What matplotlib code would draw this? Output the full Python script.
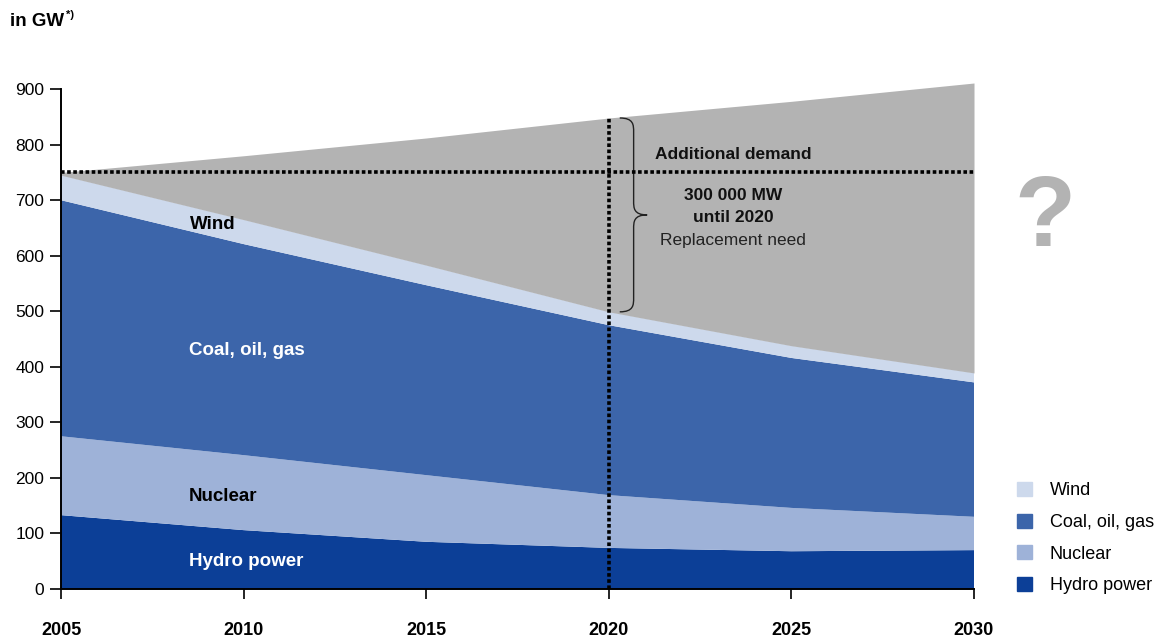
"""
installed capacity outlook 2005-2030, stacked by source, with the
gap between existing plants and expected demand shaded grey

    python plot.py  -> out.png
"""

import matplotlib
matplotlib.use("Agg")
import matplotlib.pyplot as plt
from matplotlib.patches import Patch, PathPatch
from matplotlib.path import Path

plt.rcParams["font.family"] = ["Liberation Sans", "DejaVu Sans"]

years = [2005, 2010, 2015, 2020, 2025, 2030]

# GW per source, stacked bottom to top
hydro = [133, 106, 85, 74, 68, 70]
nuclear = [142, 135, 120, 95, 78, 60]
coal_oil_gas = [425, 380, 342, 306, 270, 242]
wind = [45, 44, 36, 24, 22, 17]

# expected total demand
demand = [750, 780, 812, 848, 878, 911]

names = ["Hydro power", "Nuclear", "Coal, oil, gas", "Wind"]
colors = ["#0c3f97", "#9eb2d8", "#3c65aa", "#cdd9ec"]
grey = "#b3b3b3"

top = [h + n + c + w for h, n, c, w in zip(hydro, nuclear, coal_oil_gas, wind)]

fig = plt.figure(figsize=(11.7, 6.37), dpi=100)
ax = fig.add_axes([61 / 1170, 1 - 589 / 637, 913 / 1170, 511 / 637])

ax.stackplot(years, hydro, nuclear, coal_oil_gas, wind, colors=colors, lw=0)
ax.fill_between(years, top, demand, color=grey, lw=0)

ax.set_xlim(2005, 2030)
ax.set_ylim(0, 920)
ax.set_xticks(years)
ax.set_yticks(range(0, 901, 100))
for s in ("top", "right"):
    ax.spines[s].set_visible(False)
ax.spines["left"].set_bounds(0, 900)
ax.spines["left"].set_linewidth(1.4)
ax.spines["bottom"].set_linewidth(1.4)
ax.tick_params(axis="x", length=7, width=1.2, pad=17, labelsize=13)
ax.tick_params(axis="y", length=8, width=1.2, pad=4, labelsize=12.5)
for t in ax.get_xticklabels():
    t.set_fontweight("bold")

# today's capacity level and the 2020 marker
i20 = years.index(2020)
dots = dict(color="black", lw=2.6, ls=(0, (1, 0.7)), solid_capstyle="butt")
ax.plot([2005, 2030], [demand[0], demand[0]], **dots)
ax.plot([2020, 2020], [0, demand[i20]], **dots)

# curly brace from the wind edge up to demand in 2020
y0, y1 = top[i20], demand[i20]
ym = (y0 + y1) / 2
xl, xm, xt = 2020.3, 2020.68, 2021.05
r = 25
verts = [
    (xl, y1), (xm, y1), (xm, y1 - r / 2), (xm, y1 - r),
    (xm, ym + r),
    (xm, ym + r / 2), (xm, ym), (xt, ym),
    (xm, ym), (xm, ym - r / 2), (xm, ym - r),
    (xm, y0 + r),
    (xm, y0 + r / 2), (xm, y0), (xl, y0),
]
codes = [Path.MOVETO] + [Path.CURVE4] * 3 + [Path.LINETO] + [Path.CURVE4] * 6 \
    + [Path.LINETO] + [Path.CURVE4] * 3
ax.add_patch(PathPatch(Path(verts, codes), fill=False, lw=1.0, ec="#222222"))

ax.text(2023.4, 783, "Additional demand", ha="center", va="center",
        fontsize=12.5, fontweight="bold", color="#111111")
ax.text(2023.4, 708, "300 000 MW", ha="center", va="center",
        fontsize=12.5, fontweight="bold", color="#111111")
ax.text(2023.4, 668, "until 2020", ha="center", va="center",
        fontsize=12.5, fontweight="bold", color="#111111")
ax.text(2023.4, 627, "Replacement need", ha="center", va="center",
        fontsize=12.5, color="#222222")

# labels inside the areas
ax.text(2009.15, 657, "Wind", ha="center", va="center", fontsize=13.5,
        fontweight="bold", color="black")
ax.text(2008.5, 430, "Coal, oil, gas", ha="left", va="center", fontsize=13.5,
        fontweight="bold", color="white")
ax.text(2008.5, 166, "Nuclear", ha="left", va="center", fontsize=13.5,
        fontweight="bold", color="black")
ax.text(2008.5, 50, "Hydro power", ha="left", va="center", fontsize=13.5,
        fontweight="bold", color="white")

fig.text(10 / 1170, 1 - 22 / 637, "in GW", ha="left", va="center",
         fontsize=13.5, fontweight="bold")
fig.text(66 / 1170, 1 - 15 / 637, "*)", ha="left", va="center",
         fontsize=8, fontweight="bold")
fig.text(1045 / 1170, 1 - 220 / 637, "?", ha="center", va="center",
         fontsize=72, fontweight="bold", color=grey)

handles = [Patch(color=c, label=n) for c, n in zip(colors, names)][::-1]
fig.legend(handles=handles, loc="upper left",
           bbox_to_anchor=(1010 / 1170, 1 - 475 / 637), frameon=False,
           fontsize=13, handlelength=0.8, handleheight=0.8,
           handletextpad=1.0, labelspacing=0.8, borderaxespad=0)

fig.savefig("out.png", dpi=100)
